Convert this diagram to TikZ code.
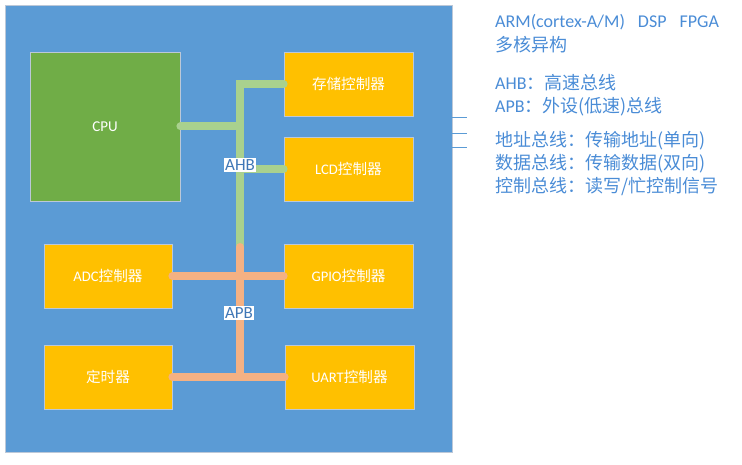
\documentclass[tikz,border=0pt]{standalone}
\usepackage{fontspec}
\setmainfont{Carlito}
\newfontfamily\cjk{Noto Sans CJK SC}
\usetikzlibrary{positioning}
\definecolor{chipblue}{HTML}{5B9BD5}
\definecolor{cpugreen}{HTML}{70AD47}
\definecolor{ipgold}{HTML}{FFC000}
\definecolor{ahbgreen}{HTML}{A9D18E}
\definecolor{apborange}{HTML}{F4B183}
\definecolor{notetext}{HTML}{4A8CD6}
\definecolor{edgegray}{HTML}{BCC8D8}

\begin{document}
\begin{tikzpicture}[x=1pt,y=-1pt,
    ipbox/.style={draw=edgegray,line width=0.8pt,fill=ipgold,text=white,minimum width=129pt,minimum height=64pt,inner sep=0pt,font=\fontsize{14.6}{17}\selectfont},
    bus/.style={line width=8pt,line cap=round},
    buslabel/.style={fill=white,text=notetext!85!black,inner sep=1.5pt,font=\fontsize{17}{19}\selectfont},
    note/.style={anchor=west,text=notetext,inner sep=0pt,font=\fontsize{18}{21}\selectfont}]
    \useasboundingbox (0,0) rectangle (742,465);
    \node[draw=edgegray,fill=chipblue,minimum width=447pt,minimum height=447pt,inner sep=0pt] (chip) at (228.5,228.5) {};
    \node[draw=edgegray,line width=0.8pt,fill=cpugreen,text=white,minimum width=150pt,minimum height=149pt,font=\fontsize{15}{17}\selectfont] (cpu) at (105,126.5) {CPU};
    \node[ipbox] (mem) at (348.5,84) {\cjk 存储控制器};
    \node[ipbox] (lcd) at (348.5,169) {LCD{\cjk 控制器}};
    \node[ipbox,minimum width=128pt] (adc) at (108,276) {ADC{\cjk 控制器}};
    \node[ipbox] (gpio) at (348.5,276) {GPIO{\cjk 控制器}};
    \node[ipbox,minimum width=128pt] (timer) at (108,377) {\cjk 定时器};
    \node[ipbox] (uart) at (349.5,377) {UART{\cjk 控制器}};
    \coordinate (ahbtop) at (240,84);
    \coordinate (ahbbot) at (240,247);
    \draw[bus,ahbgreen] (mem.west) -- (ahbtop) -- (ahbbot);
    \draw[bus,ahbgreen] (cpu.east) -- (cpu.east -| ahbtop);
    \draw[bus,ahbgreen] (lcd.west) -- (lcd.west -| ahbtop);
    \draw[bus,apborange] (adc.east) -- (gpio.west);
    \draw[bus,apborange] (timer.east) -- (uart.west);
    \draw[bus,apborange] (ahbbot) -- (ahbbot |- uart.west);
    \node[buslabel] (ahb) at (240,165) {AHB};
    \node[buslabel] (apb) at (239,313) {APB};
    \foreach \y in {117,133,147}
        \draw[chipblue,line width=0.8pt] (452,\y) -- (467,\y);
    \node[note] (cores) at (495,22) {ARM(cortex-A/M)\hspace{13pt}DSP\hspace{13pt}FPGA};
    \node[note] (hetero) at (495,45) {\cjk 多核异构};
    \node[note] (ahbnote) at (495,83) {AHB{\cjk ：高速总线}};
    \node[note] (apbnote) at (495,107) {APB{\cjk ：外设(低速)总线}};
    \node[note] (addrbus) at (495,141) {\cjk 地址总线：传输地址(单向)};
    \node[note] (databus) at (495,164) {\cjk 数据总线：传输数据(双向)};
    \node[note] (ctrlbus) at (495,187) {\cjk 控制总线：读写/忙控制信号};
\end{tikzpicture}
\end{document}
